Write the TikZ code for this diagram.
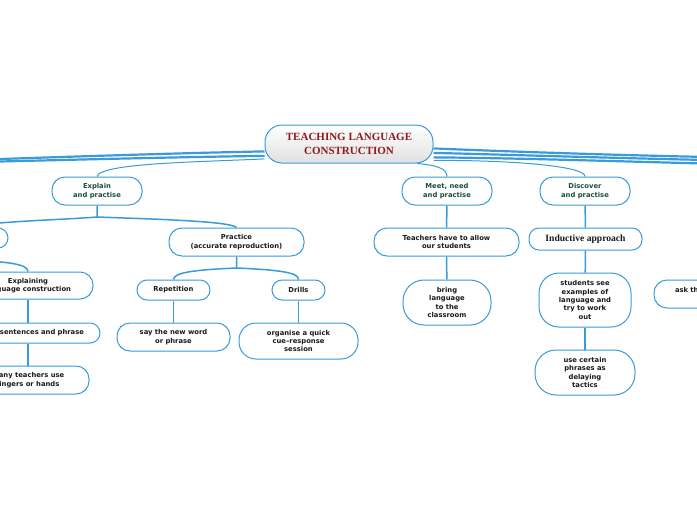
\documentclass[tikz,border=0pt]{standalone}
\usepackage{fontspec}
\setmainfont{DejaVu Sans}
\newfontfamily\titlefont{Liberation Serif}
\usetikzlibrary{positioning,calc}
\definecolor{mapblue}{HTML}{3A9BDC}
\definecolor{mapred}{HTML}{8E1B1B}
\definecolor{mapgreen}{HTML}{1D4D3F}
\definecolor{mapink}{HTML}{1A1A1A}
\tikzset{
  bx/.style={draw=mapblue, line width=1pt, fill=white, rounded corners=10pt, align=center, inner sep=1pt, font=\bfseries\fontsize{6.8}{8.4}\selectfont, text=mapink},
  topic/.style={bx, rounded corners=13pt, text=mapgreen, minimum width=90pt, minimum height=28pt},
  root/.style={bx, rounded corners=17pt, top color=white, middle color=white, bottom color=black!12, font=\titlefont\bfseries\fontsize{11}{14}\selectfont, text=mapred},
  seriftext/.style={font=\titlefont\bfseries\fontsize{9.6}{11}\selectfont},
  link/.style={draw=mapblue, line width=1.5pt},
  thinlink/.style={draw=mapblue, line width=1pt},
  mainlink/.style={draw=mapblue, line width=2.2pt},
}

\begin{document}
\begin{tikzpicture}[x=1pt, y=-1pt]
    \useasboundingbox[fill=white] (0,0) rectangle (697,520);
    % central topic and main topics
    \node[root, minimum width=168pt, minimum height=38pt] (root) at (349,144) {TEACHING LANGUAGE\\CONSTRUCTION};
    \node[topic] (expl) at (97,191) {Explain\\and practise};
    \node[topic] (meet) at (447,191) {Meet, need\\and practise};
    \node[topic] (disc) at (585,191) {Discover\\and practise};
    % second level
    \node[bx, minimum width=96pt, minimum height=20pt] (lft) at (-40,238) {};
    \node[bx, rounded corners=13pt, minimum width=135pt, minimum height=28pt] (prac) at (236.5,242) {Practice\\(accurate reproduction)};
    \node[bx, rounded corners=13pt, minimum width=145pt, minimum height=28pt] (teach) at (446.5,242) {Teachers have to allow\\our students};
    \node[bx, seriftext, minimum width=113pt, minimum height=22pt] (induc) at (585.5,239) {Inductive approach};
    % third level and below
    \node[bx, rounded corners=13pt, minimum width=130pt, minimum height=27pt] (expg) at (28,285.5) {Explaining\\language construction};
    \node[bx, minimum width=144pt, minimum height=20pt, text width=112pt, align=right] (sent) at (28,333) {sentences and phrase};
    \node[bx, rounded corners=13pt, minimum width=122pt, minimum height=28pt] (many) at (28,380) {many teachers use\\fingers or hands};
    \node[bx, minimum width=73pt, minimum height=20pt] (rep) at (173.5,290) {Repetition};
    \node[bx, minimum width=53pt, minimum height=20pt] (drl) at (298.5,290) {Drills};
    \node[bx, rounded corners=13pt, minimum width=113pt, minimum height=28pt] (say) at (173.5,337) {say the new word\\or phrase};
    \node[bx, rounded corners=17pt, minimum width=119pt, minimum height=36pt] (org) at (298.5,341) {organise a quick\\cue--response\\session};
    \node[bx, rounded corners=21pt, minimum width=88pt, minimum height=45pt] (bring) at (447,302.5) {bring\\language\\to the\\classroom};
    \node[bx, rounded corners=20pt, minimum width=92pt, minimum height=54pt] (stud) at (585,300) {students see\\examples of\\language and\\try to work\\out};
    \node[bx, rounded corners=21pt, minimum width=100pt, minimum height=45pt] (delay) at (585,372.5) {use certain\\phrases as\\delaying\\tactics};
    \node[bx, rounded corners=13pt, minimum width=100pt, minimum height=28pt, text width=58pt, align=left] (ask) at (704,294) {ask th\\\mbox{}};
    % junctions and free ends
    \coordinate (jexpl) at (97,217);
    \coordinate (jprac) at (236.5,268);
    \coordinate (jlft) at (-40,260);
    \coordinate (farL1) at (-60,161);
    \coordinate (farL2) at (-60,163);
    \coordinate (farR1) at (760,158);
    \coordinate (farR2) at (760,161);
    \coordinate (farR3) at (760,165);
    % branches off the picture
    \draw[mainlink] (root.185) .. controls (180,153) and (60,157) .. (farL1);
    \draw[mainlink] (root.188) .. controls (180,157) and (60,160) .. (farL2);
    \draw[mainlink] (root.357) .. controls (520,152) and (640,156) .. (farR1);
    \draw[mainlink] (root.354) .. controls (520,155) and (640,159) .. (farR2);
    \draw[mainlink] (root.351) .. controls (520,158) and (640,162) .. (farR3);
    % central topic to main topics
    \draw[thinlink] (root.190) .. controls (200,162) and (100,163) .. (expl.north);
    \draw[thinlink] (root.344) .. controls (435,165) and (447,168) .. (meet.north);
    \draw[thinlink] (root.349) .. controls (500,160) and (585,165) .. (disc.north);
    % subtopics
    \draw[link] (expl.south) -- (jexpl) .. controls (60,220) and (0,221) .. (lft.north);
    \draw[link] (jexpl) .. controls (150,219) and (230,221) .. (prac.north);
    \draw[link] (lft.south) -- (jlft) .. controls (0,261) and (28,263) .. (expg.north);
    \draw[link] (expg) -- (sent);
    \draw[link] (sent) -- (many);
    \draw[link] (prac.south) -- (jprac) .. controls (190,270) and (174,273) .. (rep.north);
    \draw[link] (jprac) .. controls (283,270) and (298.5,273) .. (drl.north);
    \draw[link] (rep) -- (say);
    \draw[link] (drl) -- (org);
    \draw[link] (meet) -- (teach);
    \draw[link] (teach) -- (bring);
    \draw[link] (disc) -- (induc);
    \draw[link] (induc) -- (stud);
    \draw[link] (stud) -- (delay);
\end{tikzpicture}
\end{document}
